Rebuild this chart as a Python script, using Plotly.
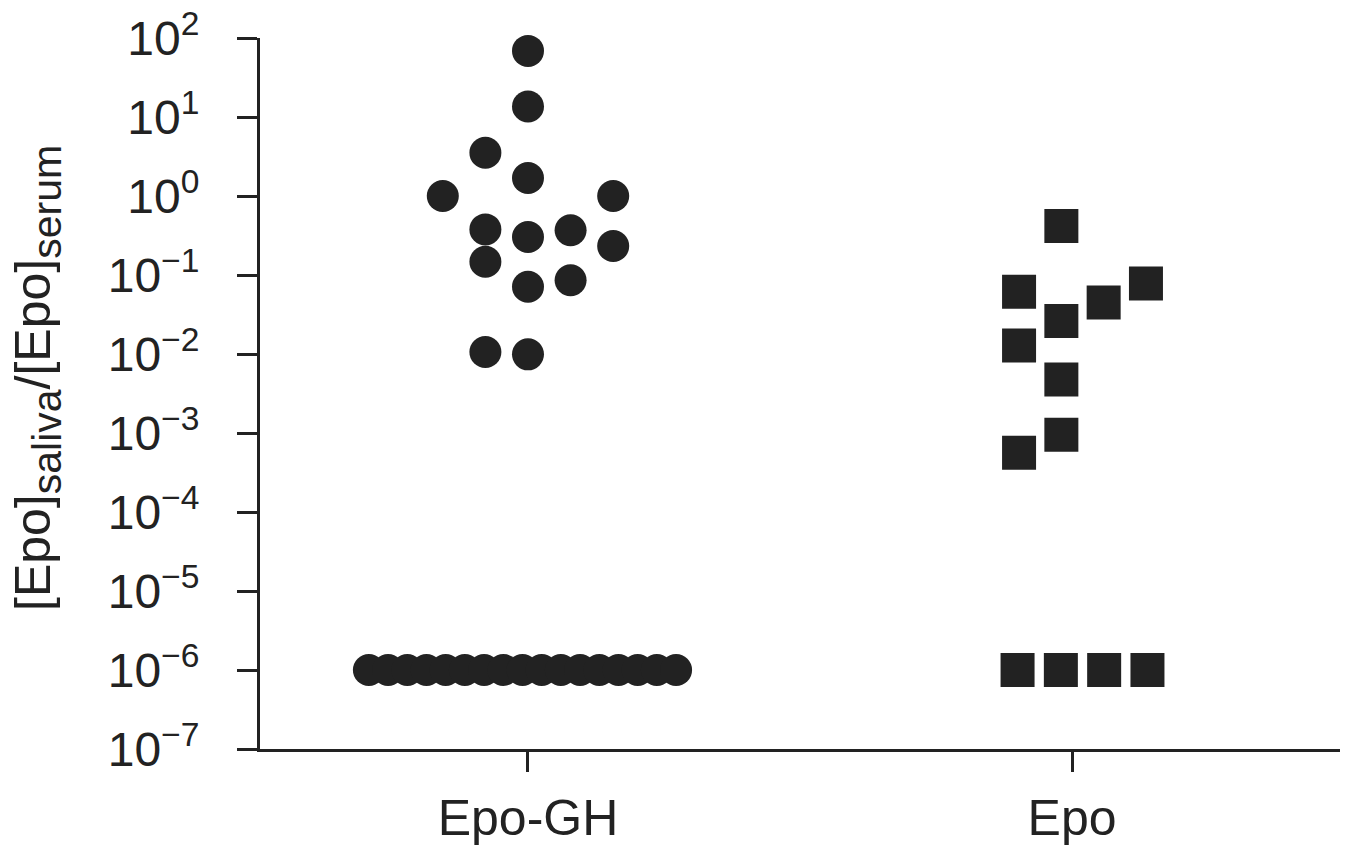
import plotly.graph_objects as go

# ---------------- data ----------------
groups = ["Epo-GH", "Epo"]

# Epo-GH: measurable saliva/serum ratios and their swarm column
epo_gh_ratio = [68.7, 13.6, 3.53, 1.69, 1.0, 1.0, 0.378, 0.369, 0.303,
                0.233, 0.147, 0.0859, 0.0711, 0.0106, 0.0099]
epo_gh_column = [0, 0, -1, 0, -2, 2, -1, 1, 0, 2, -1, 1, 0, -1, 0]
# Epo-GH: samples at the detection floor
epo_gh_floor = [1e-6, 1e-6, 1e-6, 1e-6, 1e-6, 1e-6, 1e-6, 1e-6, 1e-6,
                1e-6, 1e-6, 1e-6, 1e-6, 1e-6, 1e-6, 1e-6, 1e-6]

# Epo: measurable ratios and swarm column
epo_ratio = [0.417, 0.0615, 0.0783, 0.0449, 0.0262, 0.0128, 0.00477,
             0.000951, 0.000563]
epo_column = [-0.5, -1.5, 1.5, 0.5, -0.5, -1.5, -0.5, -0.5, -1.5]
# Epo: samples at the detection floor
epo_floor = [1e-6, 1e-6, 1e-6, 1e-6]

y_tick_values = [1e-7, 1e-6, 1e-5, 1e-4, 1e-3, 1e-2, 1e-1, 1e0, 1e1, 1e2]
y_tick_labels = ["10<sup>−7</sup>", "10<sup>−6</sup>", "10<sup>−5</sup>",
                 "10<sup>−4</sup>", "10<sup>−3</sup>", "10<sup>−2</sup>",
                 "10<sup>−1</sup>", "10<sup>0</sup>", "10<sup>1</sup>",
                 "10<sup>2</sup>"]

y_title = ('[Epo]<sub><span style="font-size:41px">saliva</span></sub>'
           '/[Epo]<sub><span style="font-size:41px">serum</span></sub>')

# ---------------- layout / styling ----------------
PAGE_PAD = 8                      # default body margin of the html page
W, H = 1361 - PAGE_PAD, 848 - PAGE_PAD
# plot area in page pixels: x 260..1340, y 38..749
ML = 260 - PAGE_PAD
MT = 38 - PAGE_PAD
MR = 1361 - 1340
MB = 848 - 749
INK = "#222222"
FONT = "Liberation Sans, Arial, Helvetica, sans-serif"

plot_w = W - ML - MR
plot_h = H - MT - MB
x_range = [-0.4926, 1.4926]
px_per_unit = plot_w / (x_range[1] - x_range[0])

circle_step = 42.6 / px_per_unit     # spacing of swarm columns (circles)
square_step = 42.3 / px_per_unit     # spacing of swarm columns (squares)
floor_step_c = 19.2 / px_per_unit    # packed spacing along the floor (circles)
floor_step_s = 43.3 / px_per_unit    # spacing along the floor (squares)
gh_floor_shift = -5.5 / px_per_unit
epo_shift = 10.5 / px_per_unit


def spread(n, step, centre):
    return [centre + (i - (n - 1) / 2) * step for i in range(n)]


gh_x = [0 + c * circle_step for c in epo_gh_column]
gh_floor_x = spread(len(epo_gh_floor), floor_step_c, 0 + gh_floor_shift)
epo_x = [1 + epo_shift + c * square_step for c in epo_column]
epo_floor_x = spread(len(epo_floor), floor_step_s, 1 + epo_shift)

fig = go.Figure()

circle_marker = dict(symbol="circle", size=32, color=INK, line=dict(width=0))
square_marker = dict(symbol="square", size=34, color=INK, line=dict(width=0))

fig.add_trace(go.Scatter(x=gh_floor_x, y=epo_gh_floor, mode="markers",
                         marker=circle_marker, cliponaxis=False,
                         name=groups[0], showlegend=False))
fig.add_trace(go.Scatter(x=gh_x, y=epo_gh_ratio, mode="markers",
                         marker=circle_marker, cliponaxis=False,
                         name=groups[0], showlegend=False))
fig.add_trace(go.Scatter(x=epo_floor_x, y=epo_floor, mode="markers",
                         marker=square_marker, cliponaxis=False,
                         name=groups[1], showlegend=False))
fig.add_trace(go.Scatter(x=epo_x, y=epo_ratio, mode="markers",
                         marker=square_marker, cliponaxis=False,
                         name=groups[1], showlegend=False))

# y-axis title as rotated text placed to the left of the tick labels
title_cx, title_cy = 37 - PAGE_PAD, 378 - PAGE_PAD   # figure pixels
fig.add_annotation(
    text=y_title, textangle=-90, showarrow=False,
    xref="paper", yref="paper",
    x=(title_cx - ML) / plot_w, y=(H - MB - title_cy) / plot_h,
    xanchor="center", yanchor="middle",
    font=dict(family=FONT, size=50, color=INK),
)

fig.update_layout(
    width=W, height=H,
    margin=dict(l=ML, r=MR, t=MT, b=MB, autoexpand=False),
    paper_bgcolor="white", plot_bgcolor="white",
    font=dict(family=FONT, color=INK),
    xaxis=dict(
        range=x_range, tickmode="array", tickvals=[0, 1], ticktext=groups,
        showgrid=False, zeroline=False, automargin=False,
        showline=True, linewidth=3, linecolor=INK,
        ticks="outside", ticklen=20, tickwidth=3, tickcolor=INK,
        tickfont=dict(family=FONT, size=50, color=INK),
        ticklabelstandoff=3,
    ),
    yaxis=dict(
        type="log", range=[-7, 2],
        tickmode="array", tickvals=y_tick_values, ticktext=y_tick_labels,
        showgrid=False, zeroline=False, automargin=False,
        showline=True, linewidth=3, linecolor=INK,
        ticks="outside", ticklen=20, tickwidth=3, tickcolor=INK,
        tickfont=dict(family=FONT, size=48, color=INK),
        ticklabelstandoff=28, ticklabeloverflow="allow",
    ),
)

fig.write_html("out.html")
